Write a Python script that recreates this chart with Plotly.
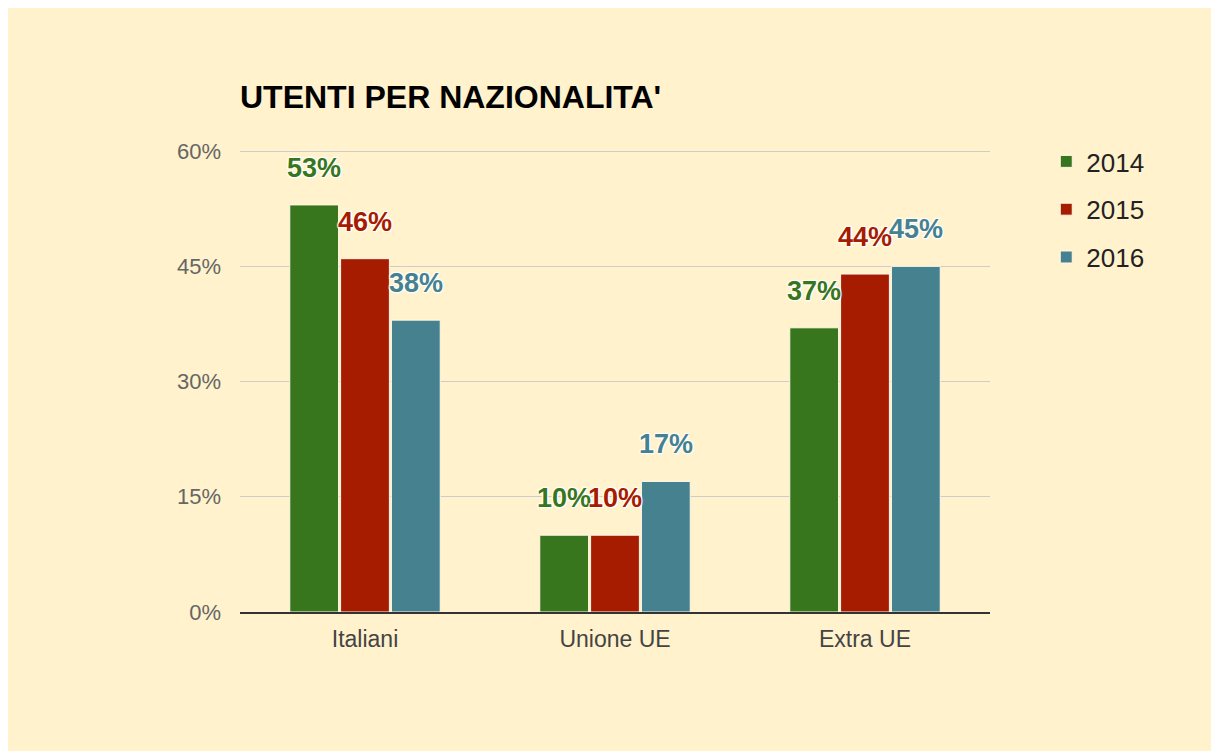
import plotly.graph_objects as go

categories = ["Italiani", "Unione UE", "Extra UE"]
years = ["2014", "2015", "2016"]
values_2014 = [53, 10, 37]
values_2015 = [46, 10, 44]
values_2016 = [38, 17, 45]
colors = ["#38761d", "#a61c00", "#45818e"]
y_ticks = [0, 15, 30, 45, 60]
y_tick_labels = ["0%", "15%", "30%", "45%", "60%"]
title_text = "UTENTI PER NAZIONALITA'"

series = [values_2014, values_2015, values_2016]
bg = "#fff2cc"

fig = go.Figure()
for i, (yr, vals, col) in enumerate(zip(years, series, colors)):
    fig.add_trace(go.Bar(
        x=categories, y=vals, name=yr, legendgroup=yr,
        marker=dict(color=col, line=dict(color="#fff8e8", width=1)),
        hoverinfo="skip",
    ))

bargap = 0.39
slot = (1 - bargap) / 3
W, H = 1211, 743
ml, mr, mt, mb = 232, 229, 142, 139
cat_px = (W - ml - mr) / len(categories)

for i, (vals, col) in enumerate(zip(series, colors)):
    for c, v in zip(categories, vals):
        fig.add_annotation(
            x=c, y=v, xref="x", yref="y",
            text=f"{v}%", showarrow=False,
            xshift=(i - 1) * slot * cat_px, yshift=37,
            font=dict(family="Liberation Sans, Arial", size=27, color=col, weight="bold",
                      shadow="1px 1px 1px #fff, -1px -1px 1px #fff, 1px -1px 1px #fff, -1px 1px 1px #fff"),
        )

fig.update_layout(
    width=W, height=H,
    margin=dict(l=ml, r=mr, t=mt, b=mb),
    paper_bgcolor=bg, plot_bgcolor=bg,
    barmode="group", bargap=bargap, bargroupgap=0.04,
    title=dict(text=title_text, x=ml / W, xanchor="left", xref="container",
               y=1 - 89 / H, yanchor="middle", yref="container",
               font=dict(family="Liberation Sans, Arial", size=32, color="#000", weight="bold")),
    font=dict(family="Liberation Sans, Arial"),
    showlegend=True,
    legend=dict(x=1.075, xanchor="left", y=1.026, yanchor="top", yref="paper",
                font=dict(size=26, color="#222"), tracegroupgap=11,
                bgcolor="rgba(0,0,0,0)", itemclick=False, itemdoubleclick=False),
    xaxis=dict(showline=True, linecolor="#333", linewidth=1.5, ticks="",
               tickfont=dict(size=23, color="#444"), ticklabelstandoff=6,
               showgrid=False, fixedrange=True),
    yaxis=dict(range=[0, 60.15], tickmode="array", tickvals=y_ticks, ticktext=y_tick_labels,
               showgrid=True, gridcolor="#cccccc", gridwidth=1, zeroline=False, ticks="",
               tickfont=dict(size=22, color="#666"), ticklabelstandoff=18, fixedrange=True),
)

fig.write_html("out.html")
